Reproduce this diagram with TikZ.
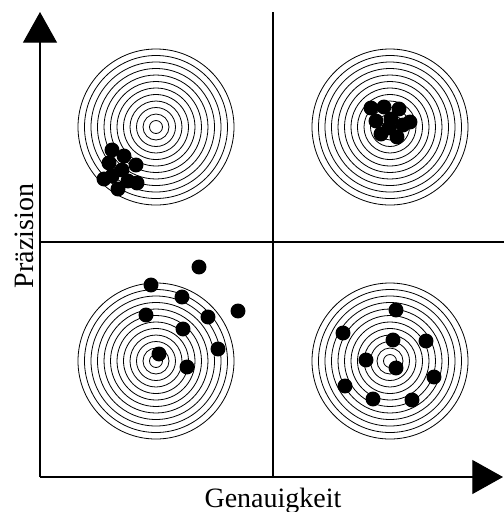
\documentclass[tikz,border=0pt]{standalone}
\usepackage{fontspec}
\setmainfont{Liberation Serif}
\usetikzlibrary{arrows.meta,positioning}

\begin{document}
\begin{tikzpicture}[
    x=0.75pt, y=-0.75pt,
    axis/.style={line width=0.8pt, -{Triangle[length=23pt, width=25.5pt]}},
    divider/.style={line width=0.8pt},
    ring/.style={line width=0.6pt},
    hit/.style={fill=black},
    lbl/.style={font=\fontsize{21}{25}\selectfont, inner sep=0pt, anchor=base},
  ]
  \useasboundingbox (0,0) rectangle (504,512);

  % axes and quadrants
  \coordinate (origin) at (40,477);
  \coordinate (ytip) at (40,12);
  \coordinate (xtip) at (503,477);
  \coordinate (vtop) at (273,12);
  \coordinate (vbot) at (273,477);
  \coordinate (hleft) at (40,242);
  \coordinate (hright) at (504,242);

  \draw[divider] (vtop) -- (vbot);
  \draw[divider] (hleft) -- (hright);
  \draw[axis] (origin) -- (ytip);
  \draw[axis] (origin) -- (xtip);

  % targets
  \coordinate (tl) at (156,127);
  \coordinate (tr) at (390,127);
  \coordinate (bl) at (156,361);
  \coordinate (br) at (390,361);
  \foreach \t in {tl,tr,bl,br}
    \foreach \r in {1,...,12}
      \draw[ring] (\t) circle[radius=4.875pt*\r];

  % hits
  \foreach \p in {(112,150),(124,156),(109,163),(136,165),(122,170),(112,176),
                  (104,179),(128,181),(137,183),(118,189)}
    \fill[hit] \p circle[radius=5.6pt];
  \foreach \p in {(371,108),(384,107),(399,109),(376,121),(391,119),(403,125),
                  (410,122),(381,134),(397,137),(389,128)}
    \fill[hit] \p circle[radius=5.6pt];
  \foreach \p in {(199,267),(151,285),(182,297),(238,311),(146,315),(208,317),
                  (183,329),(218,349),(159,354),(187,367)}
    \fill[hit] \p circle[radius=5.6pt];
  \foreach \p in {(396,310),(343,333),(393,340),(426,341),(366,360),(396,368),
                  (434,377),(345,386),(373,399),(412,400)}
    \fill[hit] \p circle[radius=5.6pt];

  \node[lbl] (xlabel) at (273,507) {Genauigkeit};
  \node[lbl, rotate=90] (ylabel) at (33,236) {Präzision};
\end{tikzpicture}
\end{document}
